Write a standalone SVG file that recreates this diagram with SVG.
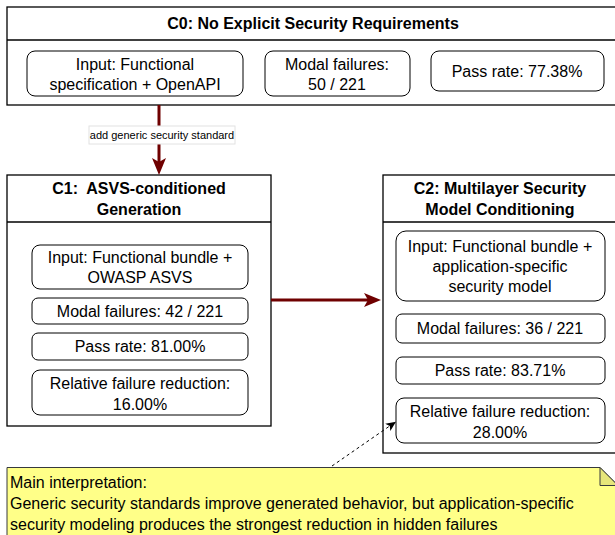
<svg xmlns="http://www.w3.org/2000/svg" width="615" height="535" viewBox="0 0 615 535">
<style>
  .cont { fill: #ffffff; stroke: #000000; stroke-width: 1.3; }
  .box { fill: #ffffff; stroke: #000000; stroke-width: 1; }
  .t { font-family: "Liberation Sans", Arial, Helvetica, sans-serif; font-size: 16px; fill: #000000; text-anchor: middle; }
  .title { font-weight: bold; white-space: pre; }
  .lbl { font-family: "Liberation Sans", Arial, Helvetica, sans-serif; font-size: 11px; fill: #000000; text-anchor: middle; }
  .note { font-family: "Liberation Sans", Arial, Helvetica, sans-serif; font-size: 16px; fill: #000000; text-anchor: start; }
  .red { fill: none; stroke: #6F0000; stroke-width: 3; }
  .dash { fill: none; stroke: #000000; stroke-width: 1; stroke-dasharray: 3 3; }
</style>
<defs>
  <marker id="redArrow" markerUnits="userSpaceOnUse" markerWidth="18" markerHeight="14" viewBox="0 0 18 14" refX="4" refY="7" orient="auto">
    <path d="M0,0 L17,7 L0,14 L4,7 Z" fill="#6F0000"/>
  </marker>
  <marker id="blkArrow" markerUnits="userSpaceOnUse" markerWidth="10" markerHeight="9" viewBox="0 0 10 9" refX="2" refY="4.5" orient="auto">
    <path d="M0,0 L10,4.5 L0,9 L2.5,4.5 Z" fill="#000000"/>
  </marker>
</defs>

<g id="c0">
  <rect class="cont" x="7" y="7" width="613" height="98"/>
  <line x1="7" y1="40" x2="620" y2="40" stroke="#000" stroke-width="1.3"/>
  <text class="t title" x="313" y="29">C0: No Explicit Security Requirements</text>
</g>
<g id="c0-input">
  <rect class="box" x="27" y="51" width="216" height="45" rx="8"/>
  <text class="t" x="135" y="70">Input: Functional</text>
  <text class="t" x="135" y="90">specification + OpenAPI</text>
</g>
<g id="c0-modal">
  <rect class="box" x="265" y="51" width="145" height="45" rx="8"/>
  <text class="t" x="337" y="70">Modal failures:</text>
  <text class="t" x="337" y="90">50 / 221</text>
</g>
<g id="c0-pass">
  <rect class="box" x="431" y="51" width="173" height="40" rx="8"/>
  <text class="t" x="517" y="77">Pass rate: 77.38%</text>
</g>

<g id="c1">
  <rect class="cont" x="7" y="175" width="264" height="251"/>
  <line x1="7" y1="222" x2="271" y2="222" stroke="#000" stroke-width="1.3"/>
  <text class="t title" x="139" y="194" xml:space="preserve">C1:  ASVS-conditioned</text>
  <text class="t title" x="139" y="215">Generation</text>
</g>
<g id="c1-input">
  <rect class="box" x="32" y="245" width="216" height="44" rx="8"/>
  <text class="t" x="140" y="263">Input: Functional bundle +</text>
  <text class="t" x="140" y="283">OWASP ASVS</text>
</g>
<g id="c1-modal">
  <rect class="box" x="32" y="298" width="216" height="26" rx="6"/>
  <text class="t" x="140" y="317">Modal failures: 42 / 221</text>
</g>
<g id="c1-pass">
  <rect class="box" x="32" y="333" width="216" height="27" rx="6"/>
  <text class="t" x="140" y="352">Pass rate: 81.00%</text>
</g>
<g id="c1-rel">
  <rect class="box" x="32" y="370" width="216" height="45" rx="8"/>
  <text class="t" x="140" y="389">Relative failure reduction:</text>
  <text class="t" x="140" y="410">16.00%</text>
</g>

<g id="c2">
  <rect class="cont" x="383" y="175" width="234" height="278"/>
  <line x1="383" y1="222" x2="617" y2="222" stroke="#000" stroke-width="1.3"/>
  <text class="t title" x="500" y="194">C2: Multilayer Security</text>
  <text class="t title" x="500" y="215">Model Conditioning</text>
</g>
<g id="c2-input">
  <rect class="box" x="396" y="231" width="209" height="70" rx="10"/>
  <text class="t" x="500" y="252">Input: Functional bundle +</text>
  <text class="t" x="500" y="272">application-specific</text>
  <text class="t" x="500" y="292">security model</text>
</g>
<g id="c2-modal">
  <rect class="box" x="396" y="314" width="209" height="29" rx="6"/>
  <text class="t" x="500" y="334">Modal failures: 36 / 221</text>
</g>
<g id="c2-pass">
  <rect class="box" x="396" y="357" width="209" height="27" rx="6"/>
  <text class="t" x="500" y="376">Pass rate: 83.71%</text>
</g>
<g id="c2-rel">
  <rect class="box" x="396" y="398" width="209" height="45" rx="8"/>
  <text class="t" x="500" y="417">Relative failure reduction:</text>
  <text class="t" x="500" y="438">28.00%</text>
</g>

<g id="note">
  <path d="M7,467.5 L600,467.5 L618,485.5 L618,545 L7,545 Z" fill="#FFFF88" stroke="#36393d" stroke-width="1"/>
  <path d="M600,467.5 L600,485.5 L618,485.5 Z" fill="#E6E67A" stroke="#36393d" stroke-width="1"/>
  <text class="note" x="10" y="488">Main interpretation:</text>
  <text class="note" x="10" y="509">Generic security standards improve generated behavior, but application-specific</text>
  <text class="note" x="10" y="530">security modeling produces the strongest reduction in hidden failures</text>
</g>

<g id="connectors">
  <line class="red" x1="159" y1="105" x2="159" y2="162" marker-end="url(#redArrow)"/>
  <rect x="89" y="126" width="146" height="18" fill="#ffffff" stroke="#e2e2e2" stroke-width="1"/>
  <text class="lbl" x="162" y="139">add generic security standard</text>
  <line class="red" x1="271" y1="300" x2="368" y2="300" marker-end="url(#redArrow)"/>
  <line class="dash" x1="332" y1="466" x2="389.4" y2="426.2" marker-end="url(#blkArrow)"/>
</g>
</svg>
